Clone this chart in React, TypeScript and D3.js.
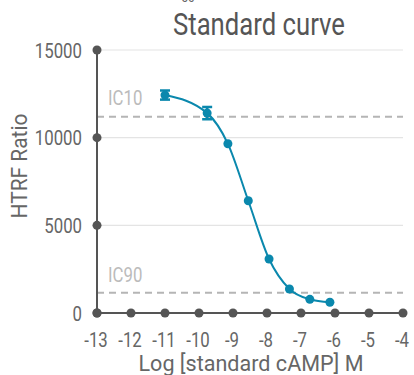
import React from "react";
import * as d3 from "d3";

const logConc = [-11, -9.76, -9.15, -8.55, -7.94, -7.34, -6.74, -6.15];
const ratio = [12430, 11400, 9650, 6400, 3080, 1370, 780, 610];
const errors = [260, 350, 0, 0, 0, 0, 0, 0];
const xTicks = [-13, -12, -11, -10, -9, -8, -7, -6, -5, -4];
const yTicks = [0, 5000, 10000, 15000];
const ic10 = 11200;
const ic90 = 1160;

const W = 414;
const H = 375;
const FONT = "Roboto, sans-serif";
const BLUE = "#0a88ad";
const AXIS = "#555";
const NARROW = 0.8;

// condensed-looking text: Roboto squeezed horizontally
function Narrow(props: {
  x: number;
  y: number;
  size: number;
  fill: string;
  anchor?: string;
  children: React.ReactNode;
}) {
  return (
    <text
      transform={`translate(${props.x},${props.y}) scale(${NARROW},1)`}
      fontSize={props.size}
      fill={props.fill}
      textAnchor={props.anchor || "start"}
    >
      {props.children}
    </text>
  );
}

export default function App() {
  const x = d3.scaleLinear().domain([-13, -4]).range([97, 403]);
  const y = d3.scaleLinear().domain([0, 15000]).range([313, 50]);

  const pts = logConc.map((c, i) => ({ c, v: ratio[i], e: errors[i] }));
  const line = d3
    .line<{ c: number; v: number }>()
    .x((d) => x(d.c))
    .y((d) => y(d.v))
    .curve(d3.curveMonotoneX);

  return (
    <svg
      width={W}
      height={H}
      style={{ position: "fixed", left: 0, top: 0, background: "#fff" }}
      fontFamily={FONT}
    >
      <Narrow x={188} y={2} size={15} fill="#666" anchor="middle">50</Narrow>
      <text x={259} y={35} fontSize={31} fill="#555" textAnchor="middle" textLength={172} lengthAdjust="spacingAndGlyphs">
        Standard curve
      </text>

      {yTicks.filter((t) => t > 0).map((t) => (
        <line key={t} x1={x(-13)} x2={x(-4)} y1={y(t)} y2={y(t)} stroke="#e4e4e4" strokeWidth={1.2} />
      ))}

      {[ic10, ic90].map((v) => (
        <line key={v} x1={x(-13)} x2={x(-4)} y1={y(v)} y2={y(v)} stroke="#b5b5b5" strokeWidth={2} strokeDasharray="7,5" />
      ))}
      <Narrow x={108} y={105} size={21} fill="#bbb">IC10</Narrow>
      <Narrow x={108} y={282} size={21} fill="#bbb">IC90</Narrow>

      <line x1={x(-13)} x2={x(-13)} y1={y(0)} y2={y(15000)} stroke={AXIS} strokeWidth={2} />
      <line x1={x(-13)} x2={x(-4)} y1={y(0)} y2={y(0)} stroke={AXIS} strokeWidth={2} />

      {yTicks.map((t) => (
        <g key={t}>
          <circle cx={x(-13)} cy={y(t)} r={4.5} fill={AXIS} />
          <Narrow x={82} y={y(t) + 7.5} size={21} fill="#666" anchor="end">{t}</Narrow>
        </g>
      ))}
      {xTicks.map((t) => (
        <g key={t}>
          <circle cx={x(t)} cy={y(0)} r={4.5} fill={AXIS} />
          <Narrow x={x(t) - 1} y={347} size={21} fill="#666" anchor="middle">{t}</Narrow>
        </g>
      ))}

      <text
        transform="translate(27,166) rotate(-90)"
        fontSize={22}
        fill="#666"
        textAnchor="middle"
        textLength={105}
        lengthAdjust="spacingAndGlyphs"
      >
        HTRF Ratio
      </text>
      <text x={251} y={371} fontSize={22} fill="#666" textAnchor="middle" textLength={225} lengthAdjust="spacingAndGlyphs">
        Log [standard cAMP] M
      </text>

      <path d={line(pts) || ""} fill="none" stroke={BLUE} strokeWidth={2} />
      {pts.map((p, i) => (
        <g key={i}>
          {p.e > 0 && (
            <g stroke={BLUE} strokeWidth={2.5}>
              <line x1={x(p.c)} x2={x(p.c)} y1={y(p.v - p.e)} y2={y(p.v + p.e)} />
              <line x1={x(p.c) - 5} x2={x(p.c) + 5} y1={y(p.v - p.e)} y2={y(p.v - p.e)} />
              <line x1={x(p.c) - 5} x2={x(p.c) + 5} y1={y(p.v + p.e)} y2={y(p.v + p.e)} />
            </g>
          )}
          <circle cx={x(p.c)} cy={y(p.v)} r={4.5} fill={BLUE} />
        </g>
      ))}
    </svg>
  );
}
